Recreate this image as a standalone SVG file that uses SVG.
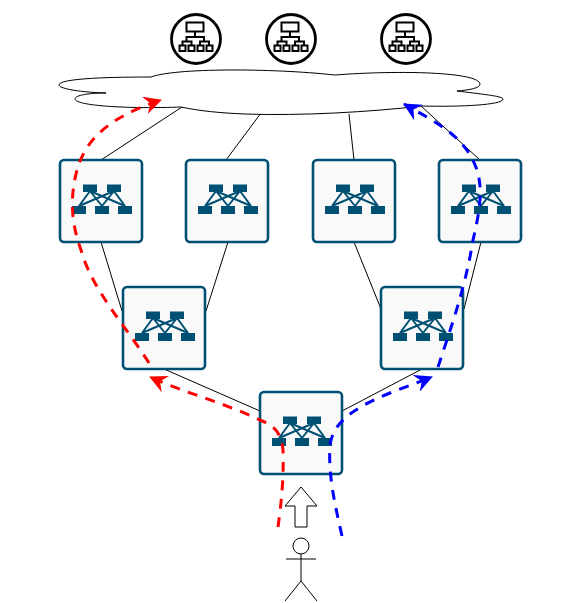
<svg xmlns="http://www.w3.org/2000/svg" width="562" height="603" viewBox="0 0 562 603">
<style>
.tile{fill:#f9f9f9;stroke:#005073;stroke-width:2.6}
.ic{fill:#005073}
.icl{stroke:#005073;stroke-width:2;fill:none}
.line{stroke:#000;stroke-width:1;fill:none}
.sv{fill:none;stroke:#000;stroke-width:2}
.red{fill:none;stroke:#f00;stroke-width:3;stroke-dasharray:10 8.500}
.blue{fill:none;stroke:#00f;stroke-width:3;stroke-dasharray:10 8.500}
</style>
<defs>
<g id="sw">
<rect class="tile" x="0" y="0" width="82" height="82" rx="4"/>
<path class="icl" d="M30 31L19 46M30 31L42 46M30 31L65 46M54 31L19 46M54 31L42 46M54 31L65 46"/>
<rect class="ic" x="23" y="24.500" width="14" height="7.500"/>
<rect class="ic" x="47" y="24.500" width="14" height="7.500"/>
<rect class="ic" x="12" y="46" width="14" height="8"/>
<rect class="ic" x="35" y="46" width="14" height="8"/>
<rect class="ic" x="58" y="46" width="14" height="8"/>
</g>
<g id="srv">
<circle cx="0" cy="0" r="24.500" fill="#fff" stroke="#000" stroke-width="2.800"/>
<rect class="sv" x="-9.500" y="-16.500" width="17" height="9"/>
<path class="sv" d="M-1 -7.500V-2M-9.500 2V-2H8V2M-13.500 6.500V2.500H-4.500V6.500M4 6.500V2.500H13V6.500"/>
<path class="sv" d="M-16.500 6.500h6v5.500h-6zM-7.500 6.500h6v5.500h-6zM1.500 6.500h6v5.500h-6zM10.500 6.500h6v5.500h-6z"/>
</g>
<marker id="ar" viewBox="0 0 18 18" refX="17" refY="9" markerWidth="18" markerHeight="18" markerUnits="userSpaceOnUse" orient="auto"><path d="M0 0L18 9L0 18L6 9z" fill="#f00"/></marker>
<marker id="ab" viewBox="0 0 18 18" refX="17" refY="9" markerWidth="18" markerHeight="18" markerUnits="userSpaceOnUse" orient="auto"><path d="M0 0L18 9L0 18L6 9z" fill="#00f"/></marker>
</defs>

<g id="connectors-black">
<path class="line" d="M101 160L182 107M226 160L261 113M354 160L349 114M480 160L421 106M101 242L122 311M228 242L206 311M354 242L381 309M481 242L464 309M164 369L260 411M422 369L342 411"/>
</g>

<g id="cloud">
<path d="M151 77C175 68 270 68 335 75C400 70 479 72 480 84C480 88 470 90 457 91C480 94 503 96 503 99C503 105 460 107 422 106C370 112 300 116 245 114C220 113 200 111 181 107C130 109 76 106 75 99C75 95 90 93 106 93C75 92 59 88 59 85C59 79 100 77 151 77Z" fill="#fff" stroke="#000" stroke-width="1"/>
</g>

<g id="server-1"><use href="#srv" x="196" y="39"/></g>
<g id="server-2"><use href="#srv" x="291" y="39"/></g>
<g id="server-3"><use href="#srv" x="406" y="39"/></g>

<g id="switch-1"><use href="#sw" x="60" y="160"/></g>
<g id="switch-2"><use href="#sw" x="186" y="160"/></g>
<g id="switch-3"><use href="#sw" x="313" y="160"/></g>
<g id="switch-4"><use href="#sw" x="439" y="160"/></g>
<g id="switch-5"><use href="#sw" x="123" y="287"/></g>
<g id="switch-6"><use href="#sw" x="381" y="287"/></g>
<g id="switch-7"><use href="#sw" x="260" y="392"/></g>

<g id="up-arrow">
<path d="M301 487L317 506H307V527H295V506H285Z" fill="#fff" stroke="#000" stroke-width="1"/>
</g>

<g id="person">
<circle cx="301" cy="546" r="8" fill="#fff" stroke="#000" stroke-width="1"/>
<path class="line" d="M301 554V581M286 559H316M301 581L285 601M301 581L317 601"/>
</g>

<g id="connectors-dashed">
<path class="red" marker-end="url(#ar)" d="M278 527C281 505 284 480 283 450C281 430 272 425 260 420C225 403 185 393 150 377"/>
<path class="red" marker-end="url(#ar)" d="M149 363C125 325 92 290 81 250C72 225 69 200 77 170C88 130 125 112 161 100"/>
<path class="blue" marker-end="url(#ab)" d="M342 536C335 505 328 475 330 445C332 430 342 420 350 414C375 396 405 388 432 377"/>
<path class="blue" marker-end="url(#ab)" d="M438 367C450 330 465 290 473 240C480 210 483 190 477 170C465 135 435 122 404 104"/>
</g>
</svg>
